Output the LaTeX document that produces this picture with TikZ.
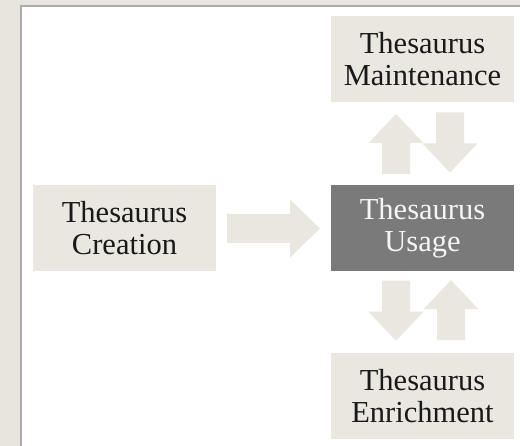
\documentclass[tikz,border=0pt]{standalone}
\usepackage{fontspec}
\setmainfont{Liberation Serif}
\usepackage{xcolor}
\usepackage{tikz}
\usetikzlibrary{calc}
\usetikzlibrary{positioning}

\definecolor{paper}{RGB}{232,229,223}
\definecolor{boxgray}{RGB}{234,231,225}
\definecolor{darkbox}{RGB}{122,122,122}
\definecolor{rim}{RGB}{172,172,170}
\definecolor{ink}{RGB}{25,25,25}

\tikzset{
  stage/.style={rectangle, fill=boxgray, minimum width=183pt, minimum height=86pt,
    inner sep=0pt, align=center, text=ink, font=\fontsize{30.5}{32}\selectfont},
  current/.style={stage, fill=darkbox, text=white!96!black},
  % fat arrows, centred, pointing right before rotation
  hfat/.pic={\fill[boxgray] (-46.5,-14.5) -- (16.5,-14.5) -- (16.5,-29) -- (46.5,0)
    -- (16.5,29) -- (16.5,14.5) -- (-46.5,14.5) -- cycle;},
  vfat/.pic={\fill[boxgray] (-30,-14) -- (1,-14) -- (1,-27.5) -- (30,0)
    -- (1,27.5) -- (1,14) -- (-30,14) -- cycle;}
}

\begin{document}
\begin{tikzpicture}[x=1pt,y=-1pt]
\useasboundingbox (0,0) rectangle (520,446);
\fill[paper] (0,0) rectangle (520,446);
\fill[white] (21,6) rectangle (520,446);
\draw[rim, line width=1.2pt] (21,446) -- (21,6) -- (520,6);

\node (creation) [stage] at (124.5,228.5) {Thesaurus\\Creation};
\node (usage) [current] at (422.5,228.5) {Thesaurus\\Usage};
\node (maint) [stage] at (422.5,59.5) {Thesaurus\\Maintenance};
\node (enrich) [stage] at (422.5,396) {Thesaurus\\Enrichment};

\pic at ($(creation.east)!0.5!(usage.west)$) {hfat};
\pic[rotate=90] at ($(maint.south)!0.5!(usage.north) + (-26.5,0)$) {vfat};
\pic[rotate=-90] at ($(maint.south)!0.5!(usage.north) + (27.5,-1.5)$) {vfat};
\pic[rotate=-90] at ($(usage.south)!0.5!(enrich.north) + (-26.5,-1.5)$) {vfat};
\pic[rotate=90] at ($(usage.south)!0.5!(enrich.north) + (28.5,-2)$) {vfat};
\end{tikzpicture}
\end{document}
